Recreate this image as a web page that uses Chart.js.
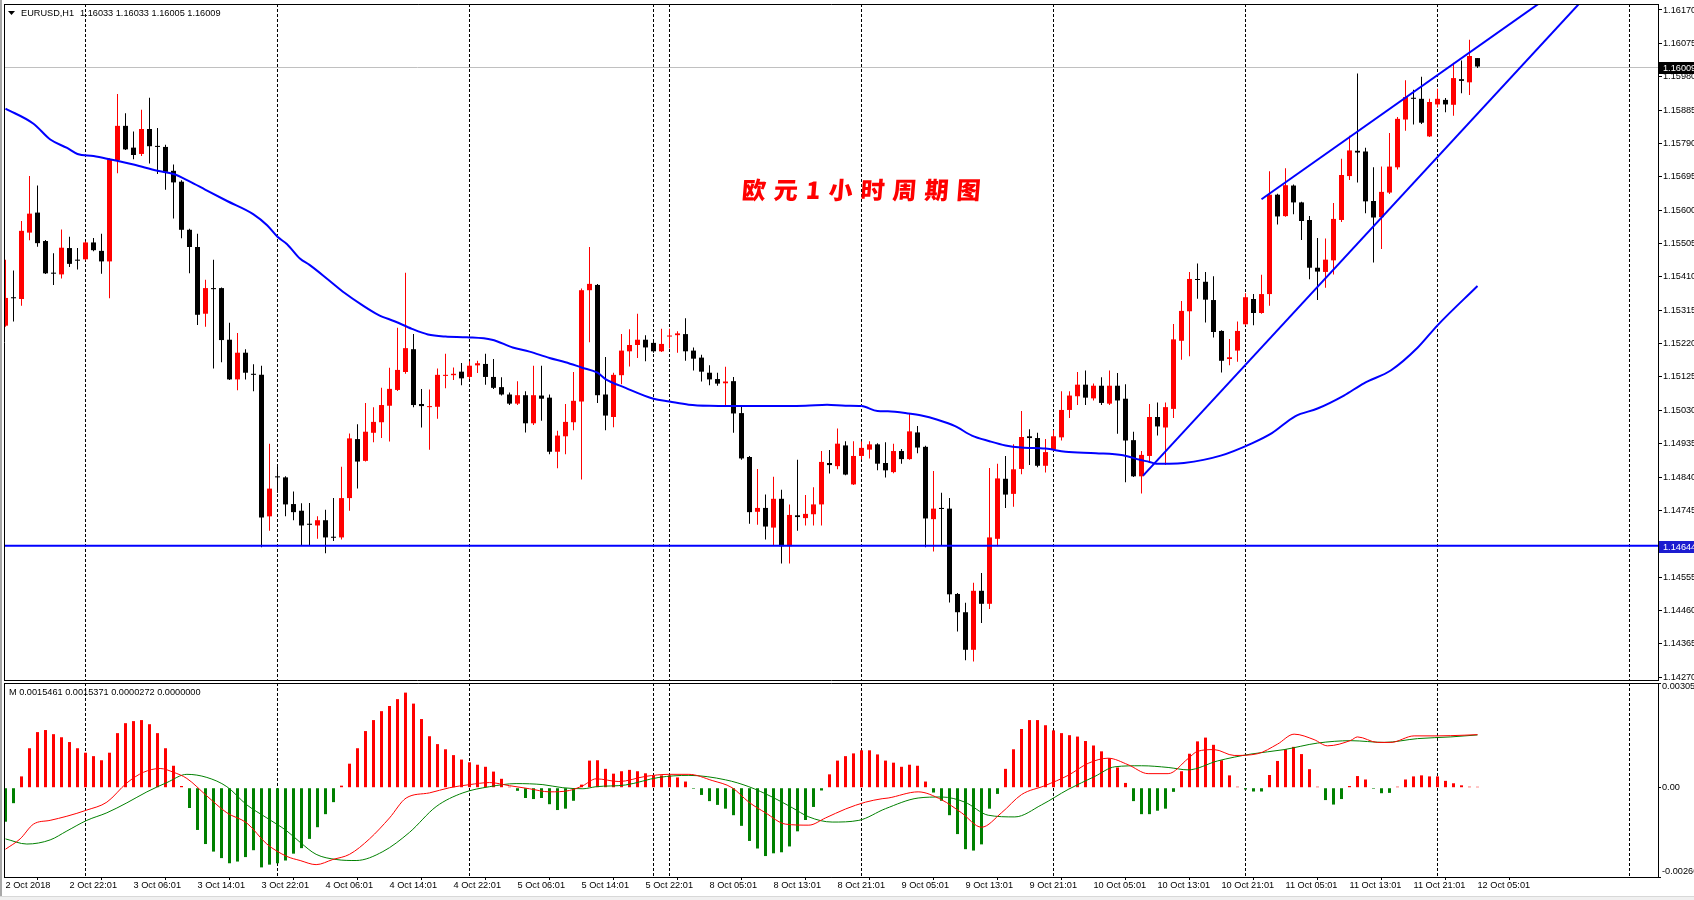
<!DOCTYPE html>
<html><head><meta charset="utf-8">
<script src="https://cdn.jsdelivr.net/npm/chart.js@4.4.1/dist/chart.umd.min.js"></script>
<style>
html,body{margin:0;padding:0;background:#fff;width:1694px;height:900px;overflow:hidden;}
#a{position:absolute;left:0;top:0;}
#b{position:absolute;left:0;top:682px;}
#edgeL{position:absolute;left:0;top:0;width:2px;height:900px;background:#a8a8a8;}
#edgeB{position:absolute;left:0;top:896px;width:1694px;height:4px;background:#f0f0f0;border-top:1px solid #d8d8d8;}
</style></head><body>
<canvas id="a" width="1694" height="682"></canvas>
<canvas id="b" width="1694" height="214"></canvas>
<div id="edgeL"></div><div id="edgeB"></div>
<script>
// ---------- DATA ----------
const symbolText = "EURUSD,H1";
const titleText = "欧元1小时周期图";
const openP = [1.15271,1.15352,1.15347,1.15536,1.15593,1.15512,1.15422,1.15417,1.15492,1.15459,1.15460,1.15508,1.15484,1.15454,1.15742,1.15840,1.15778,1.15760,1.15831,1.15783,1.15780,1.15712,1.15681,1.15544,1.15495,1.15305,1.15378,1.15378,1.15231,1.15118,1.15194,1.15134,1.15131,1.14728,1.14842,1.14839,1.14763,1.14744,1.14707,1.14702,1.14717,1.14670,1.14668,1.14780,1.14948,1.14886,1.14966,1.14996,1.15043,1.15088,1.15139,1.15204,1.15048,1.15039,1.15040,1.15128,1.15130,1.15140,1.15125,1.15158,1.15162,1.15125,1.15096,1.15075,1.15049,1.15073,1.14993,1.15072,1.15066,1.14912,1.14956,1.14996,1.15055,1.15372,1.15387,1.15075,1.15011,1.15130,1.15198,1.15216,1.15231,1.15222,1.15198,1.15240,1.15244,1.15247,1.15200,1.15180,1.15137,1.15119,1.15107,1.15113,1.15022,1.14897,1.14741,1.14752,1.14696,1.14778,1.14643,1.14731,1.14723,1.14734,1.14762,1.14880,1.14871,1.14930,1.14819,1.14900,1.14918,1.14933,1.14880,1.14854,1.14914,1.14891,1.14967,1.14926,1.14720,1.14752,1.14750,1.14507,1.14455,1.14348,1.14516,1.14479,1.14664,1.14835,1.14792,1.14863,1.14956,1.14951,1.14872,1.14918,1.14953,1.15031,1.15070,1.15103,1.15064,1.15100,1.15049,1.15100,1.15063,1.14945,1.14842,1.14900,1.15011,1.14981,1.15034,1.15228,1.15312,1.15404,1.15396,1.15344,1.15256,1.15176,1.15200,1.15275,1.15347,1.15307,1.15361,1.15644,1.15583,1.15670,1.15622,1.15572,1.15436,1.15424,1.15457,1.15572,1.15697,1.15769,1.15767,1.15626,1.15580,1.15650,1.15722,1.15858,1.15920,1.15917,1.15810,1.15901,1.15914,1.15900,1.15973,1.15964,1.16033];
const highP = [1.15459,1.15428,1.15569,1.15697,1.15670,1.15515,1.15477,1.15545,1.15524,1.15492,1.15511,1.15521,1.15533,1.15748,1.15931,1.15876,1.15824,1.15886,1.15920,1.15834,1.15786,1.15730,1.15685,1.15547,1.15533,1.15402,1.15459,1.15380,1.15279,1.15250,1.15204,1.15161,1.15157,1.14935,1.14872,1.14842,1.14799,1.14765,1.14766,1.14728,1.14747,1.14780,1.14869,1.14964,1.14990,1.15051,1.15039,1.15094,1.15151,1.15265,1.15422,1.15247,1.15091,1.15089,1.15149,1.15191,1.15152,1.15165,1.15170,1.15171,1.15191,1.15176,1.15124,1.15081,1.15113,1.15084,1.15157,1.15157,1.15075,1.14972,1.15048,1.15139,1.15377,1.15495,1.15390,1.15182,1.15137,1.15247,1.15261,1.15305,1.15244,1.15231,1.15262,1.15262,1.15255,1.15292,1.15209,1.15188,1.15158,1.15137,1.15154,1.15125,1.15040,1.14900,1.14863,1.14790,1.14841,1.14804,1.14762,1.14889,1.14789,1.14811,1.14914,1.14917,1.14978,1.14942,1.14942,1.14941,1.14942,1.14936,1.14939,1.14935,1.14920,1.15021,1.14985,1.14929,1.14857,1.14795,1.14780,1.14510,1.14482,1.14539,1.14567,1.14866,1.14878,1.14900,1.14933,1.15028,1.14976,1.14966,1.14948,1.14973,1.15084,1.15084,1.15139,1.15143,1.15106,1.15124,1.15143,1.15136,1.15104,1.14969,1.14914,1.15048,1.15052,1.15052,1.15276,1.15341,1.15424,1.15448,1.15424,1.15412,1.15258,1.15233,1.15283,1.15363,1.15361,1.15416,1.15711,1.15647,1.15719,1.15673,1.15624,1.15583,1.15521,1.15519,1.15620,1.15746,1.15812,1.15989,1.15778,1.15722,1.15724,1.15820,1.15865,1.15970,1.15943,1.15980,1.15917,1.15946,1.15919,1.16020,1.16026,1.16085,1.16033];
const lowP = [1.15268,1.15283,1.15328,1.15514,1.15496,1.15418,1.15387,1.15405,1.15438,1.15431,1.15457,1.15483,1.15419,1.15349,1.15705,1.15771,1.15745,1.15754,1.15733,1.15703,1.15658,1.15576,1.15520,1.15420,1.15273,1.15268,1.15149,1.15167,1.15116,1.15087,1.15118,1.15084,1.14640,1.14687,1.14795,1.14728,1.14717,1.14646,1.14646,1.14664,1.14623,1.14658,1.14662,1.14744,1.14807,1.14884,1.14939,1.14951,1.14941,1.15085,1.15134,1.15039,1.14981,1.14918,1.15006,1.15093,1.15116,1.15101,1.15119,1.15136,1.15103,1.15091,1.15072,1.15045,1.15045,1.14967,1.14988,1.15000,1.14905,1.14865,1.14905,1.14973,1.14833,1.15224,1.15051,1.14973,1.14982,1.15104,1.15155,1.15179,1.15170,1.15194,1.15196,1.15206,1.15194,1.15171,1.15143,1.15112,1.15101,1.15100,1.15042,1.14966,1.14889,1.14707,1.14704,1.14662,1.14644,1.14594,1.14594,1.14687,1.14702,1.14702,1.14702,1.14850,1.14862,1.14845,1.14817,1.14890,1.14893,1.14859,1.14839,1.14851,1.14878,1.14889,1.14908,1.14640,1.14628,1.14646,1.14483,1.14400,1.14318,1.14315,1.14424,1.14464,1.14643,1.14752,1.14755,1.14848,1.14874,1.14868,1.14853,1.14914,1.14944,1.15008,1.15045,1.15045,1.15058,1.15045,1.15045,1.14963,1.14825,1.14840,1.14793,1.14881,1.14958,1.14874,1.15008,1.15174,1.15184,1.15348,1.15280,1.15237,1.15138,1.15158,1.15168,1.15272,1.15272,1.15305,1.15328,1.15559,1.15581,1.15588,1.15515,1.15403,1.15344,1.15379,1.15417,1.15566,1.15686,1.15679,1.15591,1.15451,1.15489,1.15646,1.15716,1.15826,1.15844,1.15845,1.15808,1.15892,1.15879,1.15869,1.15933,1.15928,1.16005];
const closeP = [1.15350,1.15349,1.15541,1.15590,1.15506,1.15420,1.15419,1.15493,1.15447,1.15456,1.15508,1.15486,1.15454,1.15745,1.15840,1.15773,1.15757,1.15831,1.15782,1.15780,1.15709,1.15679,1.15544,1.15495,1.15302,1.15378,1.15375,1.15230,1.15118,1.15194,1.15137,1.15131,1.14725,1.14807,1.14839,1.14762,1.14740,1.14702,1.14704,1.14717,1.14668,1.14667,1.14780,1.14950,1.14884,1.14969,1.14997,1.15045,1.15091,1.15145,1.15207,1.15045,1.15042,1.15042,1.15131,1.15131,1.15134,1.15121,1.15157,1.15164,1.15125,1.15094,1.15075,1.15049,1.15073,1.14993,1.15073,1.15063,1.14912,1.14958,1.14997,1.15057,1.15372,1.15390,1.15073,1.15015,1.15131,1.15200,1.15216,1.15231,1.15209,1.15198,1.15219,1.15243,1.15249,1.15198,1.15177,1.15140,1.15118,1.15106,1.15112,1.15021,1.14893,1.14740,1.14752,1.14699,1.14778,1.14643,1.14732,1.14726,1.14735,1.14762,1.14883,1.14874,1.14935,1.14847,1.14900,1.14923,1.14933,1.14878,1.14859,1.14914,1.14891,1.14970,1.14924,1.14722,1.14750,1.14749,1.14506,1.14455,1.14348,1.14516,1.14479,1.14668,1.14836,1.14790,1.14862,1.14954,1.14951,1.14872,1.14911,1.14956,1.15031,1.15072,1.15103,1.15066,1.15100,1.15051,1.15100,1.15058,1.14944,1.14842,1.14903,1.15011,1.14984,1.15039,1.15232,1.15313,1.15404,1.15401,1.15345,1.15253,1.15171,1.15181,1.15256,1.15352,1.15307,1.15361,1.15644,1.15582,1.15671,1.15622,1.15569,1.15436,1.15425,1.15459,1.15575,1.15700,1.15770,1.15764,1.15625,1.15579,1.15652,1.15724,1.15860,1.15922,1.15917,1.15849,1.15908,1.15917,1.15901,1.15976,1.15968,1.16039,1.16009];

// moving average (blue) sampled along the bars
const maIdx = [0,3.5,5.6,7.7,9,11,13,16,19,21,23,25,27.7,31,32.7,34,35.2,36.8,38,40.5,42.4,44.5,46.6,48.7,50.8,52.8,55,57.7,60.8,63.4,65.5,68,70,72,74,75,77.5,81,83,85.4,88,94,100,102.7,105,107,109,110.3,112.8,114.5,116.5,118.7,120.8,123,125,127,130,132.5,136.3,139.7,141.8,143,143.8,145.5,147.3,151.9,155.8,158.3,161.2,164,167.3,169.8,173.2,176.5,179,184];
const maVal = [1.15889,1.15846,1.15801,1.15777,1.15760,1.15754,1.15745,1.15730,1.15712,1.15703,1.15682,1.15658,1.15626,1.15588,1.15557,1.15524,1.15503,1.15462,1.15444,1.15399,1.15364,1.15331,1.15302,1.15283,1.15262,1.15246,1.15240,1.15238,1.15231,1.15209,1.15197,1.15179,1.15167,1.15152,1.15137,1.15119,1.15094,1.15063,1.15055,1.15046,1.15043,1.15042,1.15043,1.15046,1.15043,1.15042,1.15028,1.15027,1.15021,1.15015,1.15003,1.14985,1.14958,1.14942,1.14930,1.14924,1.14921,1.14912,1.14908,1.14902,1.14889,1.14883,1.14878,1.14878,1.14880,1.14901,1.14936,1.14965,1.15013,1.15035,1.15072,1.15107,1.15144,1.15208,1.15272,1.15384];

// channel trend lines (anchor bar index, price)
const chanUpIdx = [157.0, 200];
const chanUpVal = [1.15631, 1.16322];
const chanLoIdx = [142.2, 200];
const chanLoVal = [1.14844, 1.16269];
const supportLevel = 1.14644;

// price axis ticks
const priceTicks = [1.16170,1.16075,1.15980,1.15885,1.15790,1.15695,1.15600,1.15505,1.15410,1.15315,1.15220,1.15125,1.15030,1.14935,1.14840,1.14745,1.14644,1.14555,1.14460,1.14365,1.14270];

// day separators (bar index)
const sepIdx = [10,34,58,81,83,107,131,155,179,203];

// time axis
const xTickIdx = [0,8,16,24,32,40,48,56,64,72,80,88,96,104,112,120,128,136,144,152,160,168,176,184];
const xTickLabels = ["2 Oct 2018","2 Oct 22:01","3 Oct 06:01","3 Oct 14:01","3 Oct 22:01","4 Oct 06:01","4 Oct 14:01","4 Oct 22:01","5 Oct 06:01","5 Oct 14:01","5 Oct 22:01","8 Oct 05:01","8 Oct 13:01","8 Oct 21:01","9 Oct 05:01","9 Oct 13:01","9 Oct 21:01","10 Oct 05:01","10 Oct 13:01","10 Oct 21:01","11 Oct 05:01","11 Oct 13:01","11 Oct 21:01","12 Oct 05:01"];

// MACD sub-window
const macdHist = [-0.00099,-0.00045,0.00033,0.00115,0.00162,0.00168,0.00156,0.00147,0.00133,0.00115,0.00102,0.00092,0.00080,0.00102,0.00159,0.00188,0.00194,0.00197,0.00185,0.00159,0.00115,0.00064,0.00005,-0.00059,-0.00123,-0.00164,-0.00186,-0.00205,-0.00220,-0.00215,-0.00202,-0.00182,-0.00232,-0.00224,-0.00220,-0.00212,-0.00192,-0.00176,-0.00149,-0.00115,-0.00077,-0.00042,0.00006,0.00070,0.00115,0.00165,0.00197,0.00223,0.00238,0.00258,0.00277,0.00245,0.00200,0.00150,0.00127,0.00112,0.00095,0.00082,0.00074,0.00067,0.00061,0.00047,0.00026,0.00003,-0.00009,-0.00030,-0.00033,-0.00030,-0.00048,-0.00065,-0.00061,-0.00038,0.00009,0.00079,0.00080,0.00055,0.00041,0.00048,0.00052,0.00048,0.00042,0.00036,0.00036,0.00036,0.00030,0.00018,-0.00003,-0.00021,-0.00039,-0.00050,-0.00061,-0.00080,-0.00111,-0.00155,-0.00177,-0.00199,-0.00191,-0.00188,-0.00171,-0.00127,-0.00094,-0.00056,-0.00008,0.00039,0.00079,0.00092,0.00100,0.00109,0.00109,0.00097,0.00079,0.00073,0.00061,0.00067,0.00064,0.00018,-0.00014,-0.00038,-0.00080,-0.00135,-0.00179,-0.00183,-0.00165,-0.00061,-0.00018,0.00055,0.00112,0.00171,0.00197,0.00197,0.00182,0.00167,0.00159,0.00153,0.00149,0.00136,0.00123,0.00106,0.00086,0.00059,0.00014,-0.00039,-0.00077,-0.00077,-0.00067,-0.00061,-0.00012,0.00048,0.00099,0.00135,0.00146,0.00125,0.00080,0.00036,0.00003,-0.00005,-0.00011,-0.00011,0.00037,0.00078,0.00112,0.00119,0.00098,0.00054,0.00003,-0.00036,-0.00049,-0.00033,0.00005,0.00034,0.00024,-0.00003,-0.00016,-0.00015,0.00003,0.00024,0.00033,0.00036,0.00033,0.00033,0.00020,0.00013,0.00007,0.00003,0.0000272];
const macdRedIdx = [0,1.83,3.5,5.58,7.67,10.17,12.67,15.17,17.25,19.33,21,22.67,25.17,27.67,30.17,32.67,35.17,36.83,38.83,40.92,43,45.5,48,50.08,53,55.5,58,60.5,63,65.5,68,70.5,72.17,73.83,76.67,80,82.92,85.42,88.33,90.83,92.92,95,97.5,100.42,102.5,105,107.5,109.58,110.33,114.08,117,119.5,122,124.5,127,129.92,132.83,135.33,137.83,140.33,142.83,145.33,147.83,149,151.08,153.58,156.5,159,161.08,163.58,165.25,168.17,169,171.5,173.17,176.08,179,182.33,184];
const macdRedVal = [-0.00179,-0.00149,-0.00106,-0.00095,-0.00083,-0.00065,-0.00042,0.00014,0.00045,0.00056,0.00045,0.00027,-0.00024,-0.00073,-0.00103,-0.00164,-0.00200,-0.00212,-0.00224,-0.00209,-0.00194,-0.00149,-0.00088,-0.00030,-0.00015,0,0.00009,0.00015,0.00006,-0.00003,-0.00012,-0.00008,0.00006,0.00026,0.00018,0.00033,0.00039,0.00039,0.00021,0,-0.00042,-0.00073,-0.00106,-0.00109,-0.00088,-0.00062,-0.00042,-0.00032,-0.00030,-0.00012,-0.00035,-0.00073,-0.00115,-0.00073,-0.00020,0.00006,0.00036,0.00071,0.00086,0.00067,0.00041,0.00041,0.00085,0.00106,0.00111,0.00094,0.00099,0.00127,0.00156,0.00140,0.00122,0.00138,0.00148,0.00132,0.00132,0.00151,0.00151,0.00153,0.0015461];
const macdGreenIdx = [0,2.67,5.58,7.67,10.17,12.67,15.17,17.67,20.17,22.67,25.17,27.67,30.17,32.67,35.17,36.83,38.83,41.33,43.83,47.17,50.5,53.83,57.17,60.5,63.83,67.17,69.67,72.17,73.83,77.5,81.67,85.42,90,92.92,95.83,98.33,100.42,103.33,106.67,110,114.08,117,119.92,122.83,126.17,129.5,132.83,136.17,138.67,142,145.33,147.83,151.5,155.67,159.83,164,168.17,172.33,176.5,180.67,184];
const macdGreenVal = [-0.00149,-0.00164,-0.00152,-0.00126,-0.00095,-0.00073,-0.00044,-0.00012,0.00015,0.00039,0.00030,0.00003,-0.00050,-0.00088,-0.00126,-0.00159,-0.00194,-0.00209,-0.00212,-0.00186,-0.00130,-0.00055,-0.00015,0.00003,0.00012,0.00009,0,-0.00003,0.00003,0.00008,0.00030,0.00036,0.00023,0.00003,-0.00027,-0.00058,-0.00085,-0.00100,-0.00095,-0.00061,-0.00030,-0.00027,-0.00042,-0.00080,-0.00085,-0.00050,-0.00005,0.00033,0.00061,0.00064,0.00059,0.00052,0.00078,0.00098,0.00111,0.00130,0.00137,0.00132,0.00143,0.00148,0.0015371];
const macdHeaderVals = [0.0015461, 0.0015371, 0.0000272, 0.0000000];
const macdTicks = [0.00305, 0, -0.0026];
const macdTickLabels = ["0.00305", "0.00", "-0.00260"];

// ---------- STYLE ----------
const FONT = '"Liberation Sans", Arial, sans-serif';
const FS = 9.2;
const BULL = '#ff0000', BEAR = '#000000', BLUE = '#0000ff';
const X_MIN = -0.1875, X_MAX = 206.5625;

const last = closeP.length - 1;
const candleColors = openP.map((o, i) => closeP[i] > o ? BULL : BEAR);
const barIdx = openP.map((_, i) => i);

function zeroPad(s) { s.paddingTop = 0; s.paddingBottom = 0; s.paddingLeft = 0; s.paddingRight = 0; }

function drawSeparators(chart) {
  const {ctx, chartArea: a, scales: {x}} = chart;
  ctx.save();
  ctx.strokeStyle = '#000'; ctx.lineWidth = 1; ctx.setLineDash([3, 2]);
  sepIdx.forEach(i => {
    const px = Math.round(x.getPixelForValue(i) - 0.5) + 0.5;
    if (px < a.left || px > a.right) return;
    ctx.beginPath(); ctx.moveTo(px, a.top); ctx.lineTo(px, a.bottom); ctx.stroke();
  });
  ctx.restore();
}
function drawFrame(chart) {
  const {ctx, chartArea: a} = chart;
  ctx.save(); ctx.strokeStyle = '#000'; ctx.lineWidth = 1;
  ctx.beginPath();
  ctx.moveTo(a.left + 0.5, a.top + 0.5); ctx.lineTo(a.right + 1, a.top + 0.5);
  ctx.moveTo(a.left + 0.5, a.top); ctx.lineTo(a.left + 0.5, a.bottom + 1);
  ctx.moveTo(a.left, a.bottom + 0.5); ctx.lineTo(a.right + 1, a.bottom + 0.5);
  ctx.moveTo(a.right + 0.5, a.top); ctx.lineTo(a.right + 0.5, a.bottom + 1);
  ctx.stroke(); ctx.restore();
}

const overlayA = {
  id: 'overlayA',
  beforeDatasetsDraw(chart) {
    const {ctx, chartArea: a, scales: {y}} = chart;
    drawSeparators(chart);
    const py = Math.round(y.getPixelForValue(closeP[last])) + 0.5;
    ctx.save(); ctx.strokeStyle = '#c0c0c0'; ctx.lineWidth = 1;
    ctx.beginPath(); ctx.moveTo(a.left, py); ctx.lineTo(a.right, py); ctx.stroke(); ctx.restore();
  },
  afterDraw(chart) {
    const {ctx, chartArea: a, scales: {y}} = chart;
    drawFrame(chart);
    ctx.save();
    // price boxes on the axis
    const box = (v, bg) => {
      const py = Math.round(y.getPixelForValue(v));
      ctx.fillStyle = bg; ctx.fillRect(a.right + 1, py - 5, 40, 12);
      ctx.fillStyle = '#fff'; ctx.font = FS + 'px ' + FONT; ctx.textBaseline = 'middle'; ctx.textAlign = 'left';
      ctx.fillText(v.toFixed(5), a.right + 5, py + 1);
    };
    box(supportLevel, '#1c1cd0');
    box(closeP[last], '#000');
    // header
    ctx.fillStyle = '#000';
    ctx.beginPath(); ctx.moveTo(a.left + 4, a.top + 7); ctx.lineTo(a.left + 11, a.top + 7); ctx.lineTo(a.left + 7.5, a.top + 11); ctx.closePath(); ctx.fill();
    ctx.font = FS + 'px ' + FONT; ctx.textBaseline = 'middle'; ctx.textAlign = 'left';
    ctx.fillText(symbolText, a.left + 17, a.top + 9);
    ctx.fillText([openP[last], highP[last], lowP[last], closeP[last]].map(v => v.toFixed(5)).join(' '), a.left + 76, a.top + 9);
    // title (slightly slanted brush-like look)
    ctx.font = '900 24px "Noto Sans CJK SC", sans-serif'; ctx.fillStyle = '#ff0000'; ctx.textBaseline = 'middle';
    ctx.translate(742, 190); ctx.transform(1, 0, -0.08, 1, 0, 0);
    let tx = 0;
    for (const ch of titleText) { ctx.fillText(ch, tx, 0); tx += ctx.measureText(ch).width + 8; }
    ctx.restore();
  }
};

const chartA = new Chart(document.getElementById('a'), {
  type: 'bar',
  data: {
    datasets: [
      { type: 'line', data: maIdx.map((x, k) => ({x, y: maVal[k]})), borderColor: BLUE, borderWidth: 2, pointRadius: 0, cubicInterpolationMode: 'monotone', order: 0 },
      { type: 'line', data: chanUpIdx.map((x, k) => ({x, y: chanUpVal[k]})), borderColor: BLUE, borderWidth: 2, pointRadius: 0, order: 0 },
      { type: 'line', data: chanLoIdx.map((x, k) => ({x, y: chanLoVal[k]})), borderColor: BLUE, borderWidth: 2, pointRadius: 0, order: 0 },
      { type: 'line', data: [{x: X_MIN - 1, y: supportLevel}, {x: X_MAX + 1, y: supportLevel}], borderColor: BLUE, borderWidth: 2, pointRadius: 0, order: 0 },
      { type: 'bar', data: barIdx.map(i => ({x: i, y: [lowP[i], highP[i]]})), backgroundColor: candleColors, barThickness: 1, grouped: false, borderWidth: 0, inflateAmount: 0, order: 2 },
      { type: 'bar', data: barIdx.map(i => ({x: i, y: [openP[i], closeP[i]]})), backgroundColor: candleColors, barThickness: 5, minBarLength: 1, grouped: false, borderWidth: 0, inflateAmount: 0, order: 1 }
    ]
  },
  options: {
    responsive: false, animation: false, devicePixelRatio: 1, events: [],
    layout: { padding: { left: 4, top: 4, right: 0, bottom: 2 } },
    plugins: { legend: { display: false }, tooltip: { enabled: false } },
    scales: {
      x: { type: 'linear', min: X_MIN, max: X_MAX, display: false, offset: false },
      y: {
        type: 'linear', position: 'right', min: 1.14262, max: 1.16187, beginAtZero: false,
        afterBuildTicks: s => { s.ticks = priceTicks.map(v => ({value: v})); },
        afterFit: s => { s.width = 36; zeroPad(s); },
        ticks: { callback: v => v.toFixed(5), font: { family: FONT, size: FS }, color: '#000', padding: 1, autoSkip: false },
        grid: { drawOnChartArea: false, drawTicks: true, tickLength: 4, color: '#000' },
        border: { display: true, color: '#000' }
      }
    }
  },
  plugins: [overlayA]
});

const overlayB = {
  id: 'overlayB',
  beforeDatasetsDraw(chart) { drawSeparators(chart); },
  afterDraw(chart) {
    const {ctx, chartArea: a, scales: {y}} = chart;
    drawFrame(chart);
    ctx.save();
    ctx.font = FS + 'px ' + FONT; ctx.textBaseline = 'middle'; ctx.textAlign = 'left'; ctx.fillStyle = '#000';
    macdTicks.forEach((v, k) => {
      let py = y.getPixelForValue(v);
      py = Math.min(Math.max(py, a.top + 3), a.bottom - 6);
      ctx.fillText(macdTickLabels[k], a.right + 4, py);
    });
    ctx.fillText('M ' + macdHeaderVals.map(v => v.toFixed(7)).join(' '), a.left + 5, a.top + 9);
    ctx.restore();
  }
};

const chartB = new Chart(document.getElementById('b'), {
  type: 'bar',
  data: {
    datasets: [
      { type: 'line', data: macdRedIdx.map((x, k) => ({x, y: macdRedVal[k]})), borderColor: '#ff0000', borderWidth: 1, pointRadius: 0, cubicInterpolationMode: 'monotone', order: 0 },
      { type: 'line', data: macdGreenIdx.map((x, k) => ({x, y: macdGreenVal[k]})), borderColor: '#008000', borderWidth: 1, pointRadius: 0, cubicInterpolationMode: 'monotone', order: 0 },
      { type: 'bar', data: barIdx.map(i => ({x: i, y: macdHist[i]})), backgroundColor: macdHist.map(v => v >= 0 ? '#ff0000' : '#008000'), barThickness: 3, grouped: false, borderWidth: 0, inflateAmount: 0, order: 1 }
    ]
  },
  options: {
    responsive: false, animation: false, devicePixelRatio: 1, events: [],
    layout: { padding: { left: 4, top: 1, right: 0, bottom: 0 } },
    plugins: { legend: { display: false }, tooltip: { enabled: false } },
    scales: {
      x: {
        type: 'linear', min: X_MIN, max: X_MAX, offset: false,
        afterBuildTicks: s => { s.ticks = xTickIdx.map(v => ({value: v})); },
        afterFit: s => { s.height = 19; zeroPad(s); },
        ticks: { callback: v => xTickLabels[xTickIdx.indexOf(v)], align: 'start', autoSkip: false, maxRotation: 0, minRotation: 0, padding: 0, font: { family: FONT, size: FS }, color: '#000' },
        grid: { drawOnChartArea: false, drawTicks: true, tickLength: 3, color: '#000' },
        border: { display: true, color: '#000' }
      },
      y: {
        type: 'linear', position: 'right', min: -0.0026, max: 0.00305, beginAtZero: false,
        afterBuildTicks: s => { s.ticks = macdTicks.map(v => ({value: v})); },
        afterFit: s => { s.width = 36; zeroPad(s); },
        ticks: { display: false },
        grid: { drawOnChartArea: false, drawTicks: true, tickLength: 3, color: '#000' },
        border: { display: true, color: '#000' }
      }
    }
  },
  plugins: [overlayB]
});
</script>
</body></html>
